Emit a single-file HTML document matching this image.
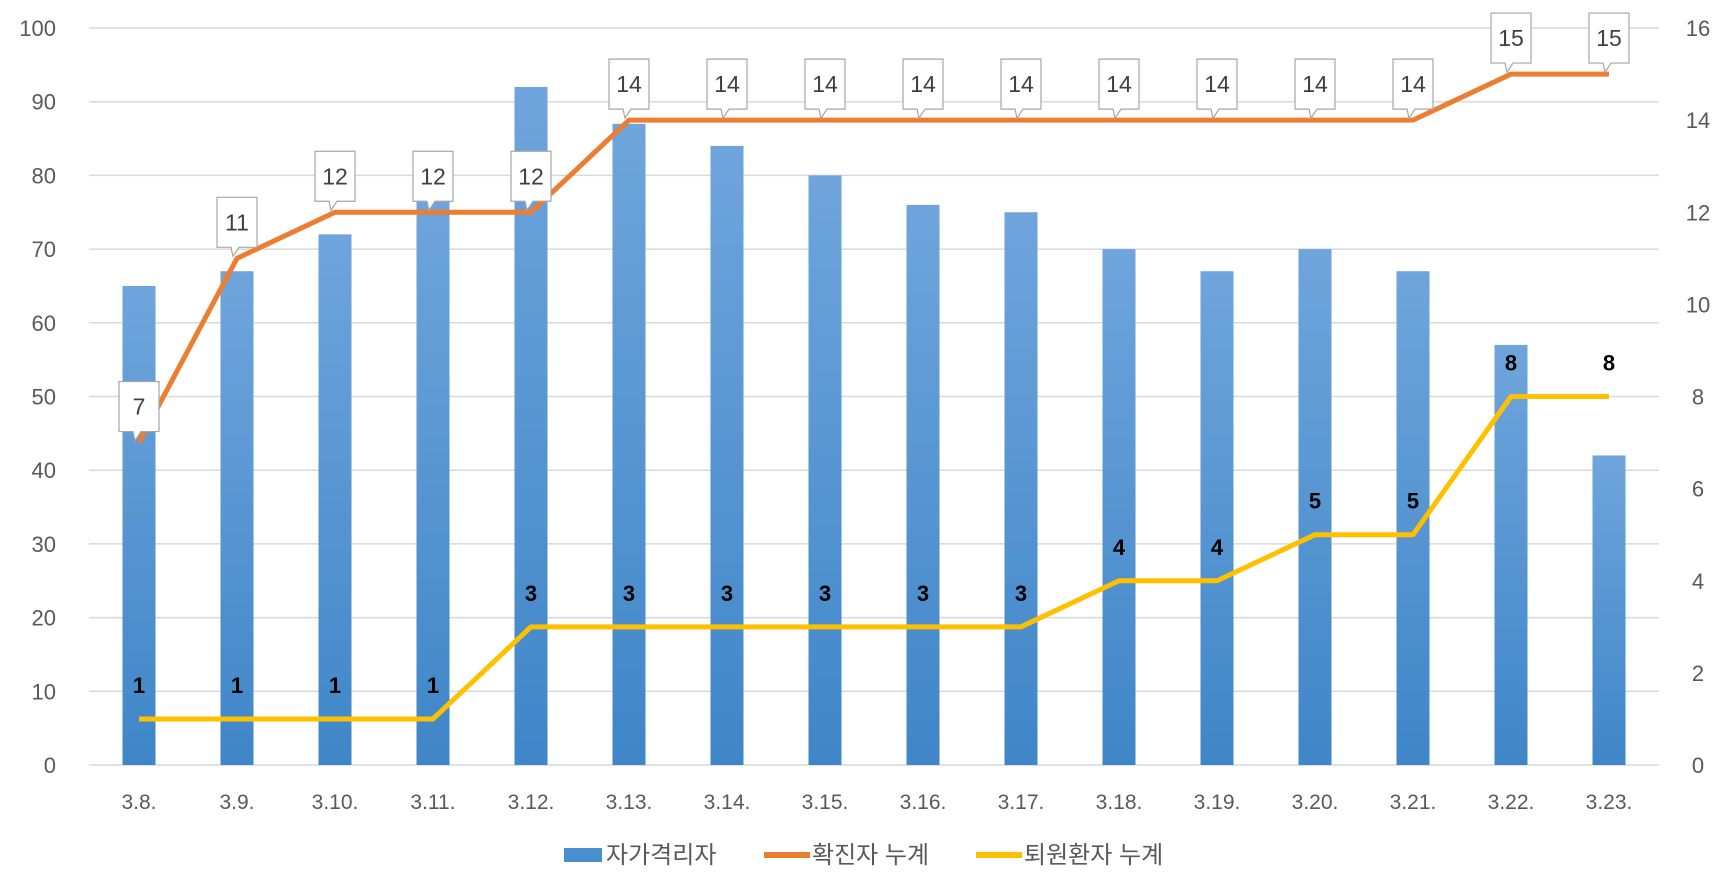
<!DOCTYPE html>
<html><head><meta charset="utf-8"><style>
html,body{margin:0;padding:0;background:#fff}
svg{display:block;font-family:"Liberation Sans","Noto Sans CJK KR",sans-serif}
</style></head><body>
<svg id="chart" width="1734" height="889" viewBox="0 0 1734 889" xmlns="http://www.w3.org/2000/svg">
<defs>
<linearGradient id="barg" x1="0" y1="0" x2="0" y2="1">
<stop offset="0" stop-color="#6fa5dc"/><stop offset="1" stop-color="#3f86c8"/>
</linearGradient>
</defs>
<g id="grid"></g>
<g id="bars"></g>
<g id="lines"></g>
<g id="labels"></g>
<g id="legend">
<rect x="564" y="848" width="38" height="14" fill="#4a8fd0"/>
<text x="606" y="863" font-size="24" fill="#595959">자가격리자</text>
<rect x="764" y="852" width="46" height="6" fill="#ed7d31"/>
<text x="812" y="863" font-size="24" fill="#595959">확진자 누계</text>
<rect x="976" y="852" width="46" height="6" fill="#ffc000"/>
<text x="1024" y="863" font-size="24" fill="#595959">퇴원환자 누계</text>
</g>
</svg>
<script>
const categories=["3.8.","3.9.","3.10.","3.11.","3.12.","3.13.","3.14.","3.15.","3.16.","3.17.","3.18.","3.19.","3.20.","3.21.","3.22.","3.23."];
const quarantine=[65,67,72,77,92,87,84,80,76,75,70,67,70,67,57,42];
const confirmed=[7,11,12,12,12,14,14,14,14,14,14,14,14,14,15,15];
const recovered=[1,1,1,1,3,3,3,3,3,3,4,4,5,5,8,8];
const leftTicks=[0,10,20,30,40,50,60,70,80,90,100];
const rightTicks=[0,2,4,6,8,10,12,14,16];
const NS="http://www.w3.org/2000/svg";
const L=89,R=1659,Y0=765,Y1=28,X0=139,STEP=98;
const x=i=>X0+i*STEP;
const yl=v=>Y0-(v/100)*(Y0-Y1);
const yr=v=>Y0-(v/16)*(Y0-Y1);
function mk(tag,parent,attrs,txt){const e=document.createElementNS(NS,tag);for(const k in attrs)e.setAttribute(k,attrs[k]);if(txt!==undefined)e.textContent=txt;document.getElementById(parent).appendChild(e);return e;}
leftTicks.forEach(t=>{
 const g=mk('line','grid',{x1:L,x2:R,y1:yl(t),y2:yl(t),stroke:'#d9d9d9','stroke-width':1.5});
 
 
 const tx=mk('text','labels',{x:56,y:yl(t)+8,'font-size':22,fill:'#595959','text-anchor':'end'},t);
 
 
});
rightTicks.forEach(t=>{
 const tx=mk('text','labels',{x:1698,y:yr(t)+8,'font-size':22,fill:'#595959','text-anchor':'middle'},t);
 
 
});
categories.forEach((c,i)=>{
 const tx=mk('text','labels',{x:x(i),y:809,'font-size':21,fill:'#595959','text-anchor':'middle'},c);
 
 
});
quarantine.forEach((v,i)=>{
 const b=mk('rect','bars',{x:x(i)-16.5,y:yl(v),width:33,height:Y0-yl(v),fill:'url(#barg)'});
 
 
});
function line(vals,color,name){
 const p=mk('polyline','lines',{points:vals.map((v,i)=>x(i)+','+yr(v)).join(' '),fill:'none',stroke:color,'stroke-width':5,'stroke-linejoin':'round'});
 
 
}
line(confirmed,'#ed7d31','line-confirmed');
line(recovered,'#ffc000','line-recovered');
confirmed.forEach((v,i)=>{
 const cx=x(i),py=yr(v);
 const top=py-61,bot=py-11,w=40;
 const d=`M${cx-w/2},${top} H${cx+w/2} V${bot} H${cx+2} L${cx-4},${py-2} L${cx-6},${bot} H${cx-w/2} Z`;
 const c=mk('path','labels',{d:d,fill:'#fff',stroke:'#a6a6a6','stroke-width':1.2});
 
 
 const t=mk('text','labels',{x:cx,y:top+33,'font-size':23,fill:'#404040','text-anchor':'middle'},v);
 
 
});
recovered.forEach((v,i)=>{
 const t=mk('text','labels',{x:x(i),y:yr(v)-26,'font-size':22,'font-weight':'bold',fill:'#000','text-anchor':'middle'},v);
 
 
});
</script>
</body></html>
